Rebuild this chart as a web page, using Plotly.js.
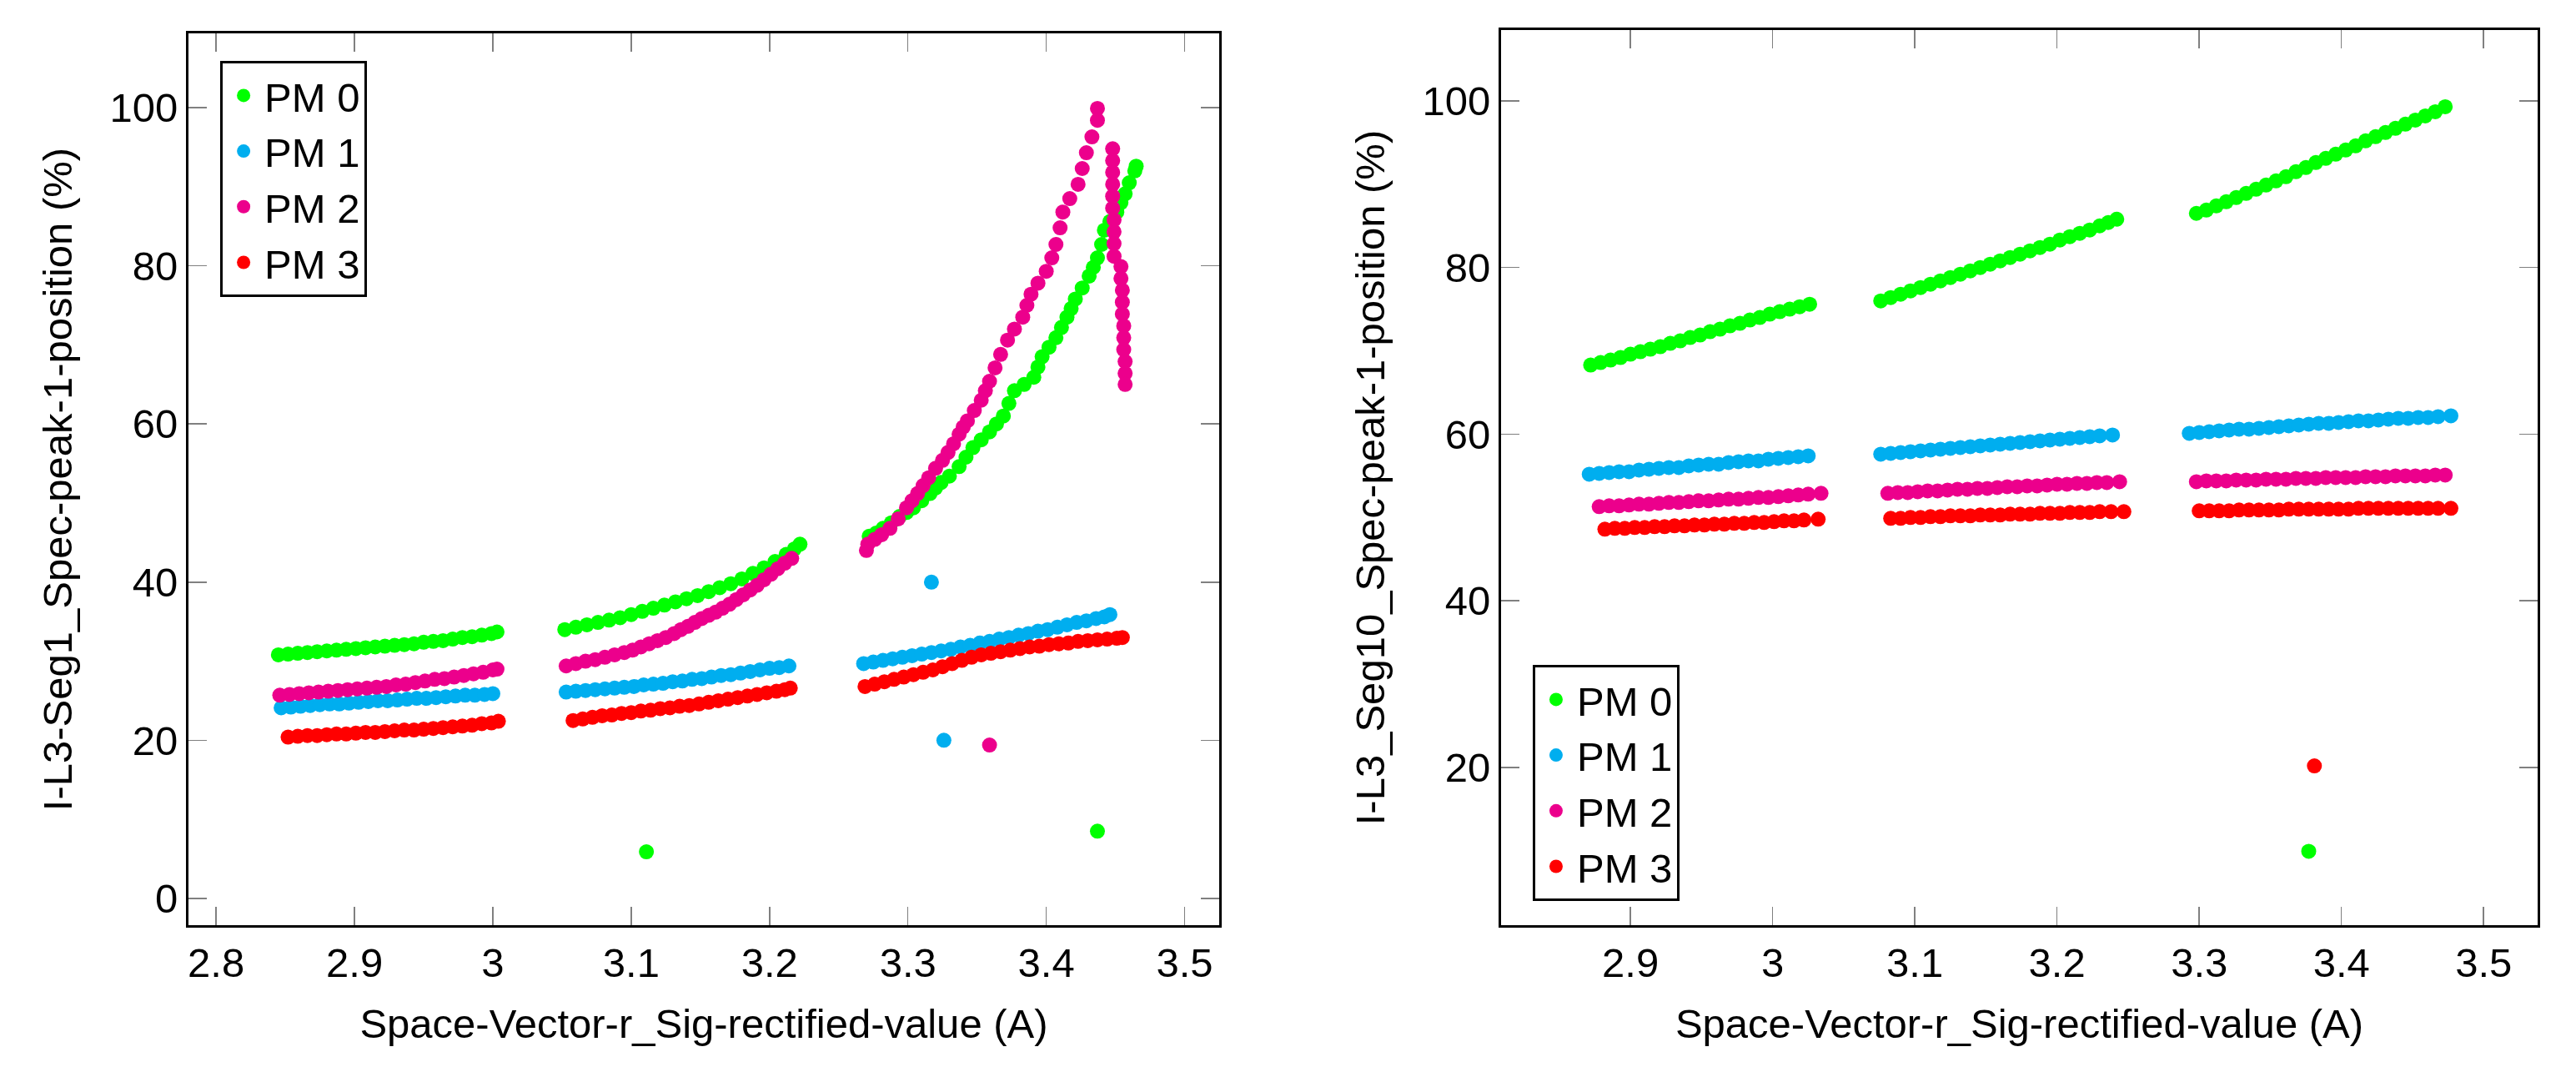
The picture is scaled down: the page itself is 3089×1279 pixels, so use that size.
<!DOCTYPE html>
<html>
<head>
<meta charset="utf-8">
<script src="https://cdn.plot.ly/plotly-3.0.1.min.js"></script>
<style>
  body { margin: 0; background: #fff; }
  #myDiv { width: 3089px; height: 1279px; }
</style>
</head>
<body>
<div id="myDiv"></div>
<script>
// series names and colours
var pmNames = ['PM 0', 'PM 1', 'PM 2', 'PM 3'];
var pmColors = ['#00ff00', '#00aeef', '#ec008c', '#ff0000'];

// ---- left plot: I-L3-Seg1_Spec-peak-1-position ----
var seg1X0 = [2.845, 2.852, 2.859, 2.866, 2.873, 2.880, 2.887, 2.894, 2.901, 2.908, 2.915, 2.922, 2.929, 2.936, 2.943, 2.950, 2.957, 2.964, 2.971, 2.978, 2.985, 2.992, 2.999, 3.003,
  3.052, 3.060, 3.068, 3.076, 3.084, 3.092, 3.100, 3.108, 3.116, 3.124, 3.132, 3.140, 3.148, 3.156, 3.164, 3.172, 3.180, 3.188, 3.196, 3.204, 3.212, 3.218, 3.222,
  3.272, 3.277, 3.282, 3.288, 3.294, 3.299, 3.304, 3.310, 3.316, 3.320, 3.324, 3.330, 3.337, 3.342, 3.347, 3.353, 3.359, 3.364, 3.369, 3.373, 3.377, 3.384, 3.391, 3.394,
  3.397, 3.402, 3.407, 3.411, 3.415, 3.418, 3.421, 3.426, 3.431, 3.434, 3.437, 3.440, 3.442, 3.446, 3.451, 3.454, 3.457, 3.460, 3.464, 3.465,
  3.111, 3.437];
var seg1Y0 = [30.8, 30.9, 31.0, 31.1, 31.2, 31.3, 31.4, 31.5, 31.6, 31.7, 31.8, 31.9, 32.0, 32.1, 32.2, 32.4, 32.5, 32.6, 32.8, 33.0, 33.1, 33.3, 33.5, 33.7,
  34.0, 34.3, 34.6, 34.9, 35.2, 35.5, 35.9, 36.3, 36.7, 37.1, 37.5, 37.9, 38.3, 38.8, 39.3, 39.8, 40.4, 41.1, 41.8, 42.6, 43.5, 44.2, 44.8,
  45.8, 46.2, 46.8, 47.5, 48.3, 48.8, 49.4, 50.3, 51.2, 51.9, 52.6, 53.4, 54.6, 55.8, 57.0, 58.0, 59.0, 60.0, 61.0, 62.6, 64.2, 65.0, 65.9, 67.2,
  68.5, 69.7, 70.9, 72.2, 73.5, 74.6, 75.8, 77.2, 78.7, 79.8, 81.0, 82.7, 84.5, 85.6, 86.8, 88.0, 89.1, 90.5, 92.0, 92.6,
  5.9, 8.5];

var seg1X1 = [2.847, 2.854, 2.861, 2.868, 2.875, 2.882, 2.889, 2.896, 2.903, 2.910, 2.917, 2.924, 2.931, 2.938, 2.945, 2.952, 2.959, 2.966, 2.973, 2.980, 2.987, 2.994, 3.000,
  3.053, 3.060, 3.067, 3.074, 3.081, 3.088, 3.095, 3.102, 3.109, 3.116, 3.123, 3.130, 3.137, 3.144, 3.151, 3.158, 3.165, 3.172, 3.179, 3.186, 3.193, 3.200, 3.207, 3.214,
  3.268, 3.275, 3.282, 3.289, 3.296, 3.303, 3.310, 3.317, 3.324, 3.331, 3.338, 3.345, 3.352, 3.359, 3.366, 3.373, 3.380, 3.387, 3.394, 3.401, 3.408, 3.415, 3.422, 3.429,
  3.436, 3.442, 3.446,
  3.317, 3.326];
var seg1Y1 = [24.1, 24.2, 24.3, 24.4, 24.5, 24.6, 24.6, 24.7, 24.8, 24.9, 25.0, 25.0, 25.1, 25.2, 25.3, 25.3, 25.4, 25.5, 25.6, 25.7, 25.7, 25.8, 25.9,
  26.1, 26.2, 26.3, 26.4, 26.5, 26.6, 26.7, 26.8, 27.0, 27.1, 27.2, 27.4, 27.5, 27.7, 27.8, 28.0, 28.2, 28.3, 28.5, 28.7, 28.9, 29.1, 29.2, 29.4,
  29.7, 29.9, 30.1, 30.3, 30.5, 30.7, 30.9, 31.1, 31.3, 31.5, 31.8, 32.0, 32.3, 32.5, 32.8, 33.0, 33.3, 33.5, 33.8, 34.0, 34.3, 34.6, 34.9, 35.1,
  35.4, 35.6, 35.9,
  40.0, 20.0];

var seg1X2 = [2.846, 2.853, 2.860, 2.867, 2.874, 2.881, 2.888, 2.895, 2.902, 2.909, 2.916, 2.923, 2.930, 2.937, 2.944, 2.951, 2.958, 2.965, 2.972, 2.979, 2.986, 2.993, 3.000, 3.003,
  3.053, 3.060, 3.067, 3.074, 3.081, 3.088, 3.095, 3.101, 3.107, 3.113, 3.119, 3.125, 3.131, 3.136, 3.141, 3.146, 3.151, 3.156, 3.161, 3.166, 3.171, 3.176, 3.181, 3.186,
  3.191, 3.196, 3.201, 3.206, 3.211, 3.216,
  3.270, 3.271, 3.276, 3.281, 3.287, 3.293, 3.299, 3.303, 3.307, 3.311, 3.315, 3.320, 3.325, 3.329, 3.333, 3.337, 3.340, 3.343, 3.348, 3.353, 3.356, 3.359, 3.363, 3.367,
  3.372, 3.377, 3.383, 3.386, 3.389, 3.394, 3.400, 3.404, 3.407, 3.410, 3.412, 3.417, 3.423, 3.426, 3.429, 3.433, 3.437, 3.437,
  3.448, 3.448, 3.448, 3.448, 3.448, 3.448, 3.449, 3.449, 3.449, 3.449,
  3.454, 3.454, 3.455, 3.455, 3.455, 3.456, 3.456, 3.456, 3.457, 3.457, 3.457,
  3.359];
var seg1Y2 = [25.7, 25.8, 25.9, 26.0, 26.1, 26.2, 26.3, 26.4, 26.5, 26.6, 26.7, 26.8, 27.0, 27.1, 27.3, 27.5, 27.7, 27.8, 28.0, 28.2, 28.4, 28.6, 28.9, 29.0,
  29.4, 29.7, 30.0, 30.2, 30.5, 30.8, 31.1, 31.4, 31.8, 32.2, 32.6, 33.0, 33.5, 34.0, 34.4, 34.9, 35.4, 35.8, 36.2, 36.7, 37.2, 37.8, 38.4, 39.0,
  39.6, 40.3, 41.0, 41.7, 42.4, 43.0,
  44.0, 44.8, 45.4, 46.0, 46.8, 48.0, 49.4, 50.3, 51.2, 52.2, 53.2, 54.4, 55.4, 56.4, 57.5, 58.7, 59.6, 60.4, 61.7, 63.0, 64.2, 65.4, 67.1, 68.8,
  70.6, 72.0, 73.5, 75.0, 76.4, 77.8, 79.3, 81.0, 82.7, 84.8, 86.8, 88.5, 90.3, 92.3, 94.3, 96.3, 98.4, 99.9,
  94.8, 93.3, 91.8, 90.3, 88.8, 87.3, 85.8, 84.3, 82.8, 81.2,
  79.9, 78.4, 76.9, 75.4, 73.9, 72.4, 70.9, 69.4, 67.9, 66.4, 65.0,
  19.4];

var seg1X3 = [2.852, 2.859, 2.866, 2.873, 2.880, 2.887, 2.894, 2.901, 2.908, 2.915, 2.922, 2.929, 2.936, 2.943, 2.950, 2.957, 2.964, 2.971, 2.978, 2.985, 2.992, 2.999, 3.004,
  3.058, 3.065, 3.072, 3.079, 3.086, 3.093, 3.100, 3.107, 3.114, 3.121, 3.128, 3.135, 3.142, 3.149, 3.156, 3.163, 3.170, 3.177, 3.184, 3.191, 3.198, 3.205, 3.211, 3.215,
  3.269, 3.276, 3.283, 3.290, 3.297, 3.304, 3.311, 3.318, 3.325, 3.332, 3.339, 3.346, 3.353, 3.360, 3.367, 3.374, 3.381, 3.388, 3.395, 3.402, 3.409, 3.416, 3.423, 3.430,
  3.437, 3.444, 3.451, 3.455];
var seg1Y3 = [20.4, 20.5, 20.6, 20.6, 20.7, 20.8, 20.8, 20.9, 21.0, 21.0, 21.1, 21.2, 21.3, 21.3, 21.4, 21.5, 21.6, 21.7, 21.8, 21.9, 22.1, 22.2, 22.4,
  22.5, 22.7, 22.9, 23.1, 23.2, 23.4, 23.5, 23.7, 23.8, 24.0, 24.1, 24.3, 24.4, 24.6, 24.8, 25.0, 25.2, 25.4, 25.6, 25.8, 26.0, 26.2, 26.4, 26.6,
  26.8, 27.1, 27.4, 27.7, 28.0, 28.3, 28.6, 28.9, 29.3, 29.7, 30.1, 30.5, 30.8, 31.0, 31.2, 31.4, 31.6, 31.8, 31.9, 32.1, 32.2, 32.3, 32.5, 32.6,
  32.7, 32.8, 32.9, 33.0];

// ---- right plot: I-L3_Seg10_Spec-peak-1-position ----
var seg10X0 = [2.872, 2.879, 2.886, 2.893, 2.900, 2.907, 2.914, 2.921, 2.928, 2.935, 2.942, 2.949, 2.956, 2.963, 2.970, 2.977, 2.984, 2.991, 2.998, 3.005, 3.012, 3.019, 3.026,
  3.076, 3.083, 3.090, 3.097, 3.104, 3.111, 3.118, 3.125, 3.132, 3.139, 3.146, 3.153, 3.160, 3.167, 3.174, 3.181, 3.188, 3.195, 3.202, 3.209, 3.216, 3.223, 3.230, 3.236, 3.242,
  3.298, 3.305, 3.312, 3.319, 3.326, 3.333, 3.340, 3.347, 3.354, 3.361, 3.368, 3.375, 3.382, 3.389, 3.396, 3.403, 3.410, 3.417, 3.424, 3.431, 3.438, 3.445, 3.452, 3.459,
  3.466, 3.473,
  3.377];
var seg10Y0 = [68.3, 68.6, 68.9, 69.2, 69.6, 69.9, 70.2, 70.5, 70.9, 71.2, 71.6, 71.9, 72.3, 72.6, 73.0, 73.3, 73.7, 74.0, 74.4, 74.7, 75.0, 75.3, 75.6,
  76.0, 76.4, 76.8, 77.2, 77.6, 78.0, 78.4, 78.8, 79.2, 79.6, 80.0, 80.4, 80.8, 81.2, 81.6, 82.0, 82.4, 82.8, 83.3, 83.7, 84.1, 84.5, 85.0, 85.4, 85.8,
  86.5, 86.9, 87.4, 87.9, 88.4, 88.9, 89.4, 89.9, 90.4, 90.9, 91.5, 92.0, 92.6, 93.1, 93.6, 94.1, 94.6, 95.2, 95.7, 96.2, 96.7, 97.2, 97.7, 98.2,
  98.7, 99.3,
  9.95];

var seg10X1 = [2.871, 2.878, 2.885, 2.892, 2.899, 2.906, 2.913, 2.920, 2.927, 2.934, 2.941, 2.948, 2.955, 2.962, 2.969, 2.976, 2.983, 2.990, 2.997, 3.004, 3.011, 3.018, 3.025,
  3.076, 3.083, 3.090, 3.097, 3.104, 3.111, 3.118, 3.125, 3.132, 3.139, 3.146, 3.153, 3.160, 3.167, 3.174, 3.181, 3.188, 3.195, 3.202, 3.209, 3.216, 3.223, 3.230, 3.239,
  3.293, 3.300, 3.307, 3.314, 3.321, 3.328, 3.335, 3.342, 3.349, 3.356, 3.363, 3.370, 3.377, 3.384, 3.391, 3.398, 3.405, 3.412, 3.419, 3.426, 3.433, 3.440, 3.447, 3.454,
  3.461, 3.468, 3.477];
var seg10Y1 = [55.2, 55.3, 55.4, 55.5, 55.5, 55.7, 55.8, 55.9, 56.0, 56.0, 56.2, 56.3, 56.4, 56.4, 56.6, 56.7, 56.8, 56.8, 57.0, 57.1, 57.2, 57.3, 57.4,
  57.6, 57.7, 57.8, 57.9, 58.0, 58.1, 58.2, 58.3, 58.4, 58.5, 58.6, 58.7, 58.8, 58.9, 59.0, 59.1, 59.2, 59.3, 59.4, 59.5, 59.6, 59.7, 59.8, 59.9,
  60.1, 60.2, 60.3, 60.4, 60.5, 60.6, 60.6, 60.7, 60.8, 60.9, 61.0, 61.1, 61.2, 61.3, 61.3, 61.4, 61.5, 61.6, 61.6, 61.7, 61.8, 61.9, 61.9, 62.0,
  62.0, 62.1, 62.2];

var seg10X2 = [2.878, 2.885, 2.892, 2.899, 2.906, 2.913, 2.920, 2.927, 2.934, 2.941, 2.948, 2.955, 2.962, 2.969, 2.976, 2.983, 2.990, 2.997, 3.004, 3.011, 3.018, 3.025, 3.034,
  3.081, 3.088, 3.095, 3.102, 3.109, 3.116, 3.123, 3.130, 3.137, 3.144, 3.151, 3.158, 3.165, 3.172, 3.179, 3.186, 3.193, 3.200, 3.207, 3.214, 3.221, 3.228, 3.235, 3.244,
  3.298, 3.305, 3.312, 3.319, 3.326, 3.333, 3.340, 3.347, 3.354, 3.361, 3.368, 3.375, 3.382, 3.389, 3.396, 3.403, 3.410, 3.417, 3.424, 3.431, 3.438, 3.445, 3.452, 3.459,
  3.466, 3.473];
var seg10Y2 = [51.3, 51.4, 51.4, 51.5, 51.6, 51.6, 51.7, 51.8, 51.8, 51.9, 52.0, 52.0, 52.1, 52.2, 52.2, 52.3, 52.4, 52.4, 52.5, 52.6, 52.7, 52.8, 52.9,
  52.9, 53.0, 53.0, 53.1, 53.2, 53.2, 53.3, 53.4, 53.4, 53.5, 53.5, 53.6, 53.7, 53.7, 53.8, 53.8, 53.9, 54.0, 54.0, 54.1, 54.1, 54.2, 54.2, 54.3,
  54.3, 54.4, 54.4, 54.4, 54.5, 54.5, 54.5, 54.6, 54.6, 54.6, 54.7, 54.7, 54.7, 54.8, 54.8, 54.8, 54.8, 54.9, 54.9, 54.9, 55.0, 55.0, 55.0, 55.0,
  55.1, 55.1];

var seg10X3 = [2.882, 2.889, 2.896, 2.903, 2.910, 2.917, 2.924, 2.931, 2.938, 2.945, 2.952, 2.959, 2.966, 2.973, 2.980, 2.987, 2.994, 3.001, 3.008, 3.015, 3.022, 3.032,
  3.083, 3.090, 3.097, 3.104, 3.111, 3.118, 3.125, 3.132, 3.139, 3.146, 3.153, 3.160, 3.167, 3.174, 3.181, 3.188, 3.195, 3.202, 3.209, 3.216, 3.223, 3.230, 3.238, 3.247,
  3.300, 3.307, 3.314, 3.321, 3.328, 3.335, 3.342, 3.349, 3.356, 3.363, 3.370, 3.377, 3.384, 3.391, 3.398, 3.405, 3.412, 3.419, 3.426, 3.433, 3.440, 3.447, 3.454, 3.461,
  3.468, 3.477,
  3.381];
var seg10Y3 = [48.6, 48.7, 48.7, 48.8, 48.8, 48.9, 48.9, 49.0, 49.0, 49.1, 49.1, 49.2, 49.2, 49.3, 49.3, 49.4, 49.4, 49.5, 49.6, 49.6, 49.7, 49.8,
  49.9, 49.9, 50.0, 50.0, 50.1, 50.1, 50.2, 50.2, 50.2, 50.3, 50.3, 50.3, 50.4, 50.4, 50.4, 50.5, 50.5, 50.5, 50.6, 50.6, 50.6, 50.7, 50.7, 50.7,
  50.8, 50.8, 50.8, 50.8, 50.9, 50.9, 50.9, 50.9, 50.9, 51.0, 51.0, 51.0, 51.0, 51.0, 51.0, 51.0, 51.1, 51.1, 51.1, 51.1, 51.1, 51.1, 51.1, 51.1,
  51.1, 51.1,
  20.2];

// axis tick labels
var leftXTicks = [2.8, 2.9, 3.0, 3.1, 3.2, 3.3, 3.4, 3.5];
var leftXText = ['2.8', '2.9', '3', '3.1', '3.2', '3.3', '3.4', '3.5'];
var rightXTicks = [2.9, 3.0, 3.1, 3.2, 3.3, 3.4, 3.5];
var rightXText = ['2.9', '3', '3.1', '3.2', '3.3', '3.4', '3.5'];
var yTicks = [0, 20, 40, 60, 80, 100];
var yText = ['0', '20', '40', '60', '80', '100'];

var FONT = 'Liberation Sans, Arial, sans-serif';
var FS = 49;

function makeTraces(xs, ys, xaxis, yaxis, legendName) {
  var out = [];
  for (var i = 0; i < xs.length; i++) {
    out.push({
      x: xs[i],
      y: ys[i],
      mode: 'markers',
      type: 'scatter',
      name: pmNames[i],
      xaxis: xaxis,
      yaxis: yaxis,
      legend: legendName,
      marker: { size: 18, color: pmColors[i], line: { width: 0 } },
      cliponaxis: false
    });
  }
  return out;
}

function axisStyle(extra) {
  var a = {
    showgrid: false,
    zeroline: false,
    showline: true,
    mirror: 'ticks',
    linecolor: '#000000',
    linewidth: 3,
    ticks: 'inside',
    ticklen: 22,
    tickwidth: 1.5,
    tickcolor: '#808080',
    tickfont: { family: FONT, size: FS, color: '#000000' },
    automargin: false
  };
  for (var k in extra) a[k] = extra[k];
  return a;
}

function legendStyle(x, y) {
  return {
    x: x, y: y, xanchor: 'left', yanchor: 'top',
    bgcolor: '#ffffff', bordercolor: '#000000', borderwidth: 3,
    font: { family: FONT, size: FS, color: '#000' },
    itemwidth: 40,
    tracegroupgap: 0
  };
}

function plotBoth() {
  var data = makeTraces([seg1X0, seg1X1, seg1X2, seg1X3], [seg1Y0, seg1Y1, seg1Y2, seg1Y3], 'x', 'y', 'legend')
    .concat(makeTraces([seg10X0, seg10X1, seg10X2, seg10X3], [seg10Y0, seg10Y1, seg10Y2, seg10Y3], 'x2', 'y2', 'legend2'));

  var xTitle = { text: 'Space-Vector-r_Sig-rectified-value (A)', font: { family: FONT, size: FS, color: '#000' }, standoff: 30 };

  var layout = {
    width: 3089,
    height: 1279,
    margin: { l: 0, r: 0, t: 0, b: 0 },
    paper_bgcolor: '#ffffff',
    plot_bgcolor: '#ffffff',
    font: { family: FONT, size: FS, color: '#000000' },
    xaxis: axisStyle({
      domain: [0.07316, 0.47329], anchor: 'y',
      range: [2.780, 3.525],
      tickvals: leftXTicks, ticktext: leftXText,
      title: xTitle
    }),
    yaxis: axisStyle({
      domain: [0.13292, 0.96873], anchor: 'x',
      range: [-3.38, 109.39],
      tickvals: yTicks, ticktext: yText,
      title: { text: 'I-L3-Seg1_Spec-peak-1-position (%)', font: { family: FONT, size: FS, color: '#000' }, standoff: 30 }
    }),
    xaxis2: axisStyle({
      domain: [0.58271, 0.98511], anchor: 'y2',
      range: [2.809, 3.538],
      tickvals: rightXTicks, ticktext: rightXText,
      title: xTitle
    }),
    yaxis2: axisStyle({
      domain: [0.13292, 0.97185], anchor: 'x2',
      range: [1.08, 108.5],
      tickvals: yTicks, ticktext: yText,
      title: { text: 'I-L3_Seg10_Spec-peak-1-position (%)', font: { family: FONT, size: FS, color: '#000' }, standoff: 30 }
    }),
    legend: legendStyle(0.0855, 0.9429),
    legend2: legendStyle(0.595, 0.3768),
    showlegend: true
  };

  Plotly.newPlot('myDiv', data, layout, { staticPlot: true });
}

plotBoth();
</script>
</body>
</html>
